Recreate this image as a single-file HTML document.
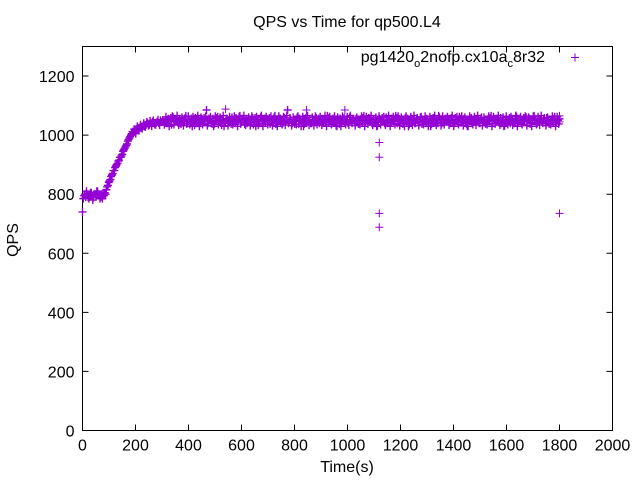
<!DOCTYPE html>
<html><head><meta charset="utf-8"><style>
body{margin:0;background:#fff}
svg{display:block;font-family:"Liberation Sans",sans-serif}
</style></head><body>
<svg id="chart" width="640" height="480" viewBox="0 0 640 480">
<rect width="640" height="480" fill="#fff"/>
<text x="347" y="27" font-size="16" text-anchor="middle">QPS vs Time for qp500.L4</text>
<text x="347" y="472" font-size="16" text-anchor="middle">Time(s)</text>
<text x="18" y="240" font-size="16" text-anchor="middle" transform="rotate(-90 18 240)">QPS</text>
<g id="axes"></g>
<g id="points"></g>
<g>
<text x="545" y="62" font-size="16" text-anchor="end">pg1420<tspan font-size="11" dy="5">o</tspan><tspan dy="-5">2nofp.cx10a</tspan><tspan font-size="11" dy="5">c</tspan><tspan dy="-5">8r32</tspan></text>
<path d="M571 57.5h8M575 53.5v8" stroke="#9400d3" stroke-width="1"/>
</g>
</svg>
<script>
const xTicks=[0,200,400,600,800,1000,1200,1400,1600,1800,2000];
const yTicks=[0,200,400,600,800,1000,1200];
const timeStep=6;
const qpsStart=[740,795,790,800,785,805,795,790,800,810,795,785,800,805];
const qpsRamp=[805,815,830,845,860,870,880,895,905,915,925,935,950,960,970,985,995,1005,1010,1015,1020,1020,1025,1025,1030,1030,1035,1040,1035,1040,1045,1040,1035,1045,1040,1050,1045];
const qpsStartB=[785,800,810,790,795,805,780,800,795,810,800,790,785,795];
const qpsRampB=[800,825,840,850,865,880,890,900,912,925,930,945,955,965,980,990,1000,1012,1020,1005,1030,1015,1035,1022,1040,1028,1045,1032,1048,1030,1050,1036,1042,1052,1034,1044,1050];
const qpsSteady=[1045,1050,1040,1055,1048,1035,1060,1045,1050,1042,1055,1038,1050,1046,1065,1040,1052,1045,1030,1050,1058,1044,1050,1040,1055,1047,1052,1085,1040,1050,1045,1056,1038,1050,1062,1044,1048,1052,1030,1046,1055,1042,1050,1060,1045,1040,1052,1048,1065,1044,1050,1038,1055,1046,1050,1042,1058,1045,1030,1052,1047,1060,1040,1050,1044,1055,1048,1038,1052,1046,1065,1042,1050,1055,1045,1040,1058,1048,1085,1044,1052,1040,1050,1046,1060,1038,1050,1045,1030,1055,1042,1048,1052,1040,1046,1050,1058,1044,1040,1050,1047,1055,1042,1065,1046,1050,1040,1053,1045,1030,1050,1056,1042,1048,1045,1052,1040,1060,1045,1050,1043,1055,1047,1040,1052,1046,1065,1042,1050,1058,1045,1040,1052,1048,1030,1044,1055,1046,1050,1040,1060,1045,1052,1043,1050,1047,1065,1040,1055,1046,1050,1042,1058,1045,1030,1052,1047,1050,1040,1055,1044,1048,1062,1046,1050,1040,1053,1045,1030,1050,1056,1042,1048,1065,1052,1040,1046,1055,1045,1050,1043,1058,1047,1040,1052,1046,1062,1042,1050,1055,1045,1030,1052,1048,1040,1044,1055,1046,1050,1040,1060,1045,1052,1043,1050,1047,1065,1040,1055,1046,1050,1042,1058,1045,1030,1052,1047,1050,1040,1055,1044,1048,1062,1046,1050,1040,1053,1045,1060,1050,1056,1042,1048,1065,1052,1040,1046,1055,1045,1050,1043,1058,1047,1040,1052,1046,1062,1042,1050,1055,1045,1040,1052,1048];
const qpsSteadyB=[1035,1062,1052,1030,1058,1064,1036,1055,1066,1034,1040,1060,1032,1058,1038,1064,1036,1056,1062,1034,1040,1066,1030,1060,1036,1058,1064,1032,1056,1062,1038,1030,1064,1058,1036,1060,1034,1066,1040,1056,1032,1062,1038,1036,1064,1058,1030,1062,1038,1056,1066,1034,1040,1060,1032,1064,1036,1058,1062,1034,1040,1066,1030,1056,1062,1036,1058,1064,1032,1060,1038,1030,1064,1056,1036,1062,1034,1066,1040,1058,1032,1060,1038,1036,1064,1056,1030,1062,1038,1058,1066,1034,1040,1060,1032,1064,1036,1056,1062,1034,1040,1066,1030,1058,1062,1036,1056,1064,1032,1060,1038,1030,1064,1058,1036,1062,1034,1066,1040,1056,1032,1060,1038,1036,1064,1058,1030,1062,1038,1056,1066,1034,1040,1060,1032,1064,1036,1058,1062,1034,1040,1066,1030,1056,1062,1036,1058,1064,1032,1060,1038,1030,1064,1056,1036,1062,1034,1066,1040,1058,1032,1060,1038,1036,1064,1056,1030,1062,1038,1058,1066,1034,1040,1060,1032,1064,1036,1056,1062,1034,1040,1066,1030,1058,1062,1036,1056,1064,1032,1060,1038,1030,1064,1058,1036,1062,1034,1066,1040,1056,1032,1060,1038,1036,1064,1058,1030,1062,1038,1056,1066,1034,1040,1060,1032,1064,1036,1058,1062,1034,1040,1066,1030,1056,1062,1036,1058,1064,1032,1060,1038,1030,1064,1056,1036,1062,1034,1066,1040,1058,1032,1060,1038,1036,1064,1056,1030,1062,1038,1058,1066,1034,1040,1060];
const outlierTimes=[1120,1120,1120,1120,1800,1800,990,845,540,1800];
const outlierValues=[975,925,735,688,735,1045,1085,1085,1088,1065];

const X0=82.5,X1=612.5,Y0=430.5,Y1=46.5;
const xs=t=>X0+(t/2000)*(X1-X0);
const ys=v=>Y0-(v/1300)*(Y0-Y1);
const NS='http://www.w3.org/2000/svg';
const axes=document.getElementById('axes');
const pts=document.getElementById('points');
function mk(tag,attrs,parent){const e=document.createElementNS(NS,tag);for(const k in attrs)e.setAttribute(k,attrs[k]);parent.appendChild(e);return e;}
const border=mk('rect',{x:X0,y:Y1,width:X1-X0,height:Y0-Y1,fill:'none',stroke:'#000','stroke-width':1},axes);


xTicks.forEach(t=>{
  const p=mk('path',{d:`M${xs(t)} ${Y0}v-6M${xs(t)} ${Y1}v6`,stroke:'#000'},axes);
  
  
  const l=mk('text',{x:xs(t),y:Y0+20,'font-size':16,'text-anchor':'middle'},axes);
  
  
  l.textContent=t;
});
yTicks.forEach(v=>{
  const p=mk('path',{d:`M${X0} ${ys(v)}h6M${X1} ${ys(v)}h-6`,stroke:'#000'},axes);
  
  
  const l=mk('text',{x:X0-8,y:ys(v)+6,'font-size':16,'text-anchor':'end'},axes);
  
  
  l.textContent=v;
});
let d='';
function addSeries(vals,offset){
  vals.forEach((v,i)=>{const t=i*timeStep+offset;if(t>1800)return;const x=xs(t),y=ys(v);d+=`M${x-4} ${y}h8M${x} ${y-4}v8`;});
}
addSeries(qpsStart.concat(qpsRamp,qpsSteady),0);
addSeries(qpsStartB.concat(qpsRampB,qpsSteadyB),3);
let d2='';
outlierTimes.forEach((t,i)=>{const x=xs(t),y=ys(outlierValues[i]);d2+=`M${x-4} ${y}h8M${x} ${y-4}v8`;});
const series=mk('path',{d:d,stroke:'#9400d3','stroke-width':1.4,fill:'none'},pts);


const outl=mk('path',{d:d2,stroke:'#9400d3','stroke-width':1,fill:'none'},pts);


</script>
</body></html>
